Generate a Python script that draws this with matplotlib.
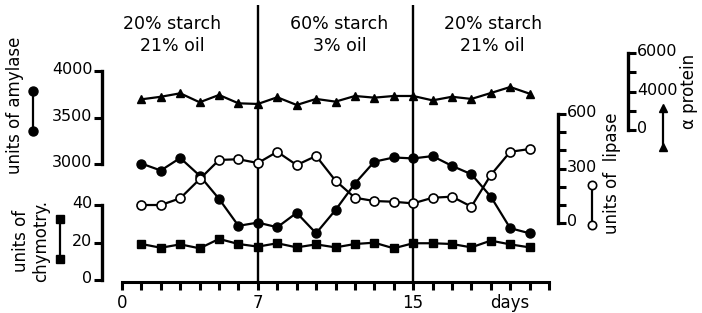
import matplotlib
matplotlib.use('Agg')
import matplotlib.pyplot as plt
from matplotlib.lines import Line2D
from matplotlib.transforms import ScaledTranslation

# ---------------- data ----------------
days = list(range(1, 22))
amylase = [3005, 2930, 3065, 2875, 2625, 2335, 2370, 2320, 2475, 2255, 2505,
           2790, 3025, 3070, 3060, 3085, 2980, 2890, 2650, 2310, 2255]
lipase = [99, 99, 136, 241, 347, 351, 330, 392, 319, 369, 233,
          139, 121, 117, 108, 139, 145, 90, 264, 392, 407]
chymotrypsin = [19.2, 17.2, 19.0, 16.9, 21.9, 19.2, 17.8, 19.6, 17.4, 19.0, 17.4,
                19.2, 19.9, 16.9, 19.6, 19.6, 19.2, 17.4, 21.0, 19.0, 17.4]
protein = [2390, 2590, 2860, 2160, 2730, 2080, 2030, 2550, 1950, 2420, 2210,
           2650, 2520, 2650, 2650, 2310, 2590, 2420, 2880, 3350, 2830]

diet_changes = [7, 15]
diet_labels = ["20% starch\n21% oil", "60% starch\n3% oil", "20% starch\n21% oil"]
diet_label_x = [2.6, 11.2, 19.1]
x_ticks = list(range(0, 23))
x_ticklabels = {0: '0', 7: '7', 15: '15', 20: 'days'}

amylase_ticks = [3000, 3500, 4000]
amylase_ticklabels = ['3000', '3500', '4000']
chymo_ticks = [0, 20, 40]
chymo_ticklabels = ['0', '20', '40']
lipase_ticks = [0, 100, 200, 300, 400, 500, 600]
lipase_ticklabels = ['0', '', '', '300', '', '', '600']
protein_ticks = [0, 1500, 3000, 4500, 6000]
protein_ticklabels = ['0', '', '4000', '', '6000']

# ---------------- layout ----------------
W, H = 702, 313
X0, X1 = 122, 549        # pixel x of day 0 and day 22
Y_TOP, Y_BOT = 5, 282    # pixel y of axes top / bottom
FONT = 'DejaVu Sans'
plt.rcParams['font.family'] = FONT

fig = plt.figure(figsize=(W / 100, H / 100), dpi=100)
rect = [X0 / W, 1 - Y_BOT / H, (X1 - X0) / W, (Y_BOT - Y_TOP) / H]

ax = fig.add_axes(rect)
ax.set_xlim(0, 22)
ax.set_ylim(0, 1)
for s in ['left', 'right', 'top']:
    ax.spines[s].set_visible(False)
ax.spines['bottom'].set_linewidth(2.2)
ax.set_yticks([])
ax.set_xticks(x_ticks)
ax.set_xticklabels([x_ticklabels.get(t, '') for t in x_ticks], fontsize=12)
ax.tick_params(axis='x', direction='out', length=6, width=2.2, pad=3)
for d in diet_changes:
    ax.axvline(d, color='black', lw=1.7)
for xl, lab in zip(diet_label_x, diet_labels):
    ax.text(xl, (Y_BOT - 15) / (Y_BOT - Y_TOP), lab, ha='center', va='top',
            fontsize=12.5, linespacing=1.28)


def px_to_fig(x, y):
    return x / W, 1 - y / H


def series_axis(v1, y1, v2, y2, spine_px, side, ticks, ticklabels):
    a = fig.add_axes(rect)
    a.patch.set_visible(False)
    a.set_xlim(0, 22)
    slope = (v2 - v1) / (y1 - y2)
    a.set_ylim(v1 - slope * (Y_BOT - y1), v1 + slope * (y1 - Y_TOP))
    for sp in a.spines.values():
        sp.set_visible(False)
    a.xaxis.set_visible(False)
    sp = a.spines[side]
    sp.set_visible(True)
    sp.set_position(('axes', (spine_px - X0) / (X1 - X0)))
    sp.set_bounds(min(ticks), max(ticks))
    sp.set_linewidth(2.4)
    sp.set_capstyle('projecting')
    a.yaxis.set_ticks_position(side)
    a.set_yticks(ticks)
    a.set_yticklabels(ticklabels)
    a.tick_params(axis='y', direction='out', length=6, width=2.2,
                  labelsize=11.5, pad=0.5)
    off = ScaledTranslation(0, 3 / 100, fig.dpi_scale_trans)
    for lbl in a.get_yticklabels():
        lbl.set_transform(lbl.get_transform() + off)
    return a


lw = 1.6
# protein (triangles)
ap = series_axis(0, 130, 6000, 53, 628, 'right', protein_ticks, protein_ticklabels)
ap.plot(days, protein, color='black', lw=lw, marker='^', ms=6, clip_on=False)
# amylase (filled circles)
aa = series_axis(3000, 164, 4000, 71, 101.5, 'left', amylase_ticks, amylase_ticklabels)
aa.plot(days, amylase, color='black', lw=lw, marker='o', ms=6.5, clip_on=False)
# lipase (open circles)
al = series_axis(0, 223, 600, 114, 558, 'right', lipase_ticks, lipase_ticklabels)
al.plot(days, lipase, color='black', lw=lw, marker='o', ms=6.5, mfc='white',
        mec='black', mew=1.2, clip_on=False)
# chymotrypsin (squares)
ac = series_axis(0, 280, 40, 205, 101.5, 'left', chymo_ticks, chymo_ticklabels)
ac.plot(days, chymotrypsin, color='black', lw=lw, marker='s', ms=5.5, clip_on=False)

# ---------------- axis titles ----------------
fig.text(*px_to_fig(15, 105), 'units of amylase', rotation=90, ha='center',
         va='center', fontsize=12)
fig.text(*px_to_fig(31, 241), 'units of\nchymotry.', rotation=90, ha='center',
         va='center', fontsize=12, linespacing=1.15)
fig.text(*px_to_fig(612, 173), 'units of  lipase', rotation=90, ha='center',
         va='center', fontsize=12)
fig.text(*px_to_fig(689, 91), 'α protein', rotation=90, ha='center',
         va='center', fontsize=12)


# ---------------- key glyphs ----------------
def key(x, y_top, y_bot, **kw):
    xf, yt = px_to_fig(x, y_top)
    _, yb = px_to_fig(x, y_bot)
    fig.add_artist(Line2D([xf, xf], [yt, yb], transform=fig.transFigure,
                          color='black', lw=1.6, **kw))


key(33, 91, 131, marker='o', ms=6.5)
key(60, 219, 259, marker='s', ms=5.5)
key(592, 185, 225, marker='o', ms=6, mfc='white', mec='black', mew=1.2)
key(663, 108, 147, marker='^', ms=5.5)

fig.savefig('out.png', dpi=100)
